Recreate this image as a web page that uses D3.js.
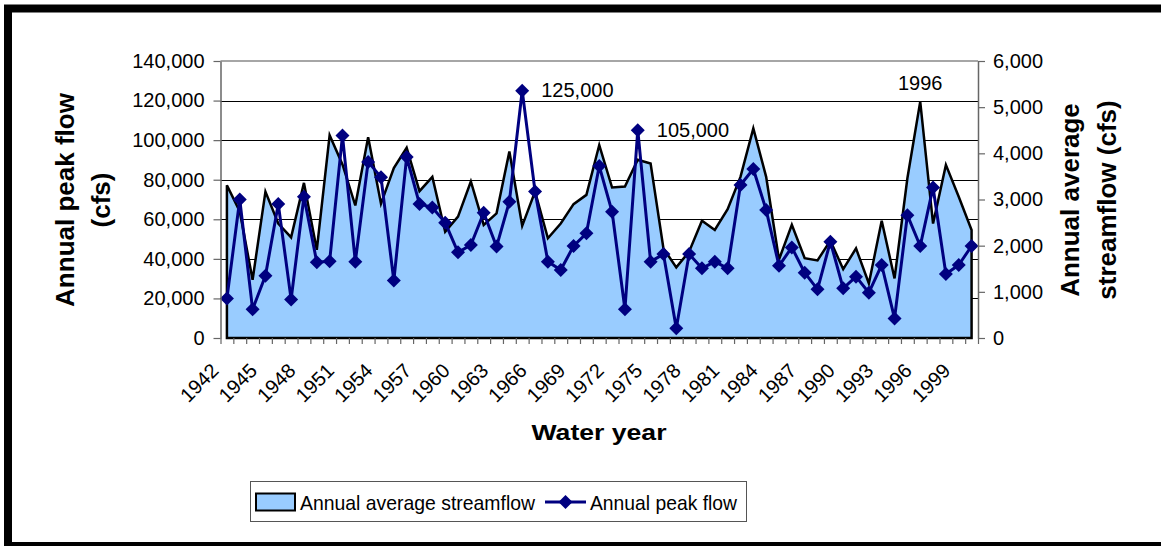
<!DOCTYPE html>
<html><head><meta charset="utf-8">
<script src="https://cdn.jsdelivr.net/npm/d3@7"></script>
<style>body{margin:0;background:#fff}svg{display:block}text{font-family:"Liberation Sans",Arial,sans-serif;fill:#000}</style>
</head><body>
<svg id="c" width="1161" height="546"></svg>
<script>
const years = d3.range(1942, 2001);
const peakFlow = [20000,70000,14500,31500,67700,19500,71400,38300,38800,102300,
  38600,89000,81300,29000,91500,67700,66000,58300,43300,47000,
  63300,46200,68900,125000,74100,38600,34400,46500,52900,86900,
  63800,14500,105000,38600,42400,4900,42400,35200,38600,35200,
  77300,85400,64700,36500,45800,33000,24600,48700,25100,31000,
  22900,36900,9900,62100,46500,76100,32300,36900,46500];
const avgFlow = [3310,2740,1260,3170,2480,2180,3360,1910,4390,3760,
  2870,4350,2910,3680,4120,3180,3490,2300,2630,3390,
  2450,2700,4040,2430,3170,2160,2480,2900,3100,4180,
  3260,3280,3860,3780,1940,1530,1870,2540,2340,2790,
  3490,4540,3490,1700,2450,1730,1680,2110,1490,1940,
  1180,2540,1290,3460,5120,2480,3750,3060,2340];
const leftTicks = [0,20000,40000,60000,80000,100000,120000,140000];
const rightTicks = [0,1000,2000,3000,4000,5000,6000];
const xLabelYears = [1942,1945,1948,1951,1954,1957,1960,1963,1966,1969,1972,1975,1978,1981,1984,1987,1990,1993,1996,1999];
const peakLabels = [{year:1965, text:"125,000"},{year:1974, text:"105,000"}];
const avgLabels = [{year:1996, text:"1996"}];

const svg = d3.select("#c");
const L = 220.5, R = 978, T = 61, B = 338;
const x = d3.scaleBand().domain(years).range([L, R]).padding(0);
const cx = d => x(d) + x.bandwidth()/2;
const xb = d3.scaleLinear().domain([0, years.length]).range([L, R]);
const yL = d3.scaleLinear().domain([0,140000]).range([B, T]);
const yR = d3.scaleLinear().domain([0,6000]).range([B, T]);

// outer frame
svg.append("rect").attr("x",8).attr("y",8.5).attr("width",1200).attr("height",537.5)
  .attr("fill","none").attr("stroke","#000").attr("stroke-width",8);

// gridlines
svg.append("g").selectAll("line").data(leftTicks.filter(v=>v>0 && v<140000)).join("line")
  .attr("x1",L).attr("x2",R).attr("y1",d=>Math.round(yL(d))+0.5).attr("y2",d=>Math.round(yL(d))+0.5)
  .attr("stroke","#000").attr("stroke-width",1);
// plot top border
svg.append("line").attr("x1",L).attr("x2",R).attr("y1",T).attr("y2",T).attr("stroke","#888").attr("stroke-width",1.5);

// area
const areaPts = years.map((y,i)=>[cx(y), yR(avgFlow[i])]);
const areaPath = "M" + cx(years[0]) + "," + B + "L" + areaPts.map(p=>p.join(",")).join("L") + "L" + cx(years[years.length-1]) + "," + B + "Z";
svg.append("path").attr("d", areaPath).attr("fill","#99CCFF").attr("stroke","#000").attr("stroke-width",2.5).attr("stroke-linejoin","miter");

// peak line
const line = d3.line().x((d,i)=>cx(years[i])).y(d=>yL(d));
svg.append("path").attr("d", line(peakFlow)).attr("fill","none").attr("stroke","#000080").attr("stroke-width",3).attr("stroke-linejoin","round");
const diamond = "M0,-7L7,0L0,7L-7,0Z";
svg.append("g").selectAll("path").data(peakFlow).join("path")
  .attr("d", diamond).attr("transform",(d,i)=>`translate(${cx(years[i])},${yL(d)})`).attr("fill","#000080");

// axes
const axL = svg.append("g").attr("transform",`translate(${L},0)`)
  .call(d3.axisLeft(yL).tickValues(leftTicks).tickSize(7).tickSizeOuter(0).tickPadding(9).tickFormat(d3.format(",")));
const axR = svg.append("g").attr("transform",`translate(${R},0)`)
  .call(d3.axisRight(yR).tickValues(rightTicks).tickSize(7).tickSizeOuter(0).tickPadding(8).tickFormat(d3.format(",")));
const axB = svg.append("g").attr("transform",`translate(0,${B})`)
  .call(d3.axisBottom(xb).tickValues(d3.range(0, years.length+1)).tickSize(6).tickSizeOuter(0).tickFormat(""));
[axL, axR, axB].forEach(a=>{
  a.selectAll("path.domain").attr("stroke","#666").attr("stroke-width",1.5);
  a.selectAll(".tick line").attr("stroke","#666").attr("stroke-width",1.2);
  a.selectAll("text").attr("font-size",20).attr("font-family","Liberation Sans, Arial, sans-serif").attr("fill","#000");
});
axB.select("path.domain").remove();

// x labels
svg.append("g").selectAll("text").data(xLabelYears).join("text")
  .attr("transform", d=>`translate(${cx(d)-7},372) rotate(-45)`)
  .attr("text-anchor","end").attr("font-size",20).text(d=>d);

// data labels
svg.append("g").selectAll("text").data(peakLabels).join("text")
  .attr("x", d=>cx(d.year)+19).attr("y", d=>yL(peakFlow[years.indexOf(d.year)])+6.5)
  .attr("font-size",20).text(d=>d.text);
svg.append("g").selectAll("text").data(avgLabels).join("text")
  .attr("x", d=>cx(d.year)).attr("y", d=>yR(avgFlow[years.indexOf(d.year)])-11.5)
  .attr("text-anchor","middle").attr("font-size",20).text(d=>d.text);

// titles
svg.append("text").attr("x",(531+667)/2).attr("y",440).attr("text-anchor","middle")
  .attr("font-size",22).attr("font-weight","bold").attr("textLength",135).attr("lengthAdjust","spacingAndGlyphs").text("Water year");
const lt = svg.append("text").attr("transform","translate(0,200) rotate(-90)").attr("text-anchor","middle")
  .attr("font-size",26).attr("font-weight","bold");
lt.append("tspan").attr("x",0).attr("y",73.5).text("Annual peak flow");
lt.append("tspan").attr("x",0).attr("y",110).text("(cfs)");
const rt = svg.append("text").attr("transform","translate(0,200) rotate(-90)").attr("text-anchor","middle")
  .attr("font-size",26).attr("font-weight","bold");
rt.append("tspan").attr("x",0).attr("y",1079).text("Annual average");
rt.append("tspan").attr("x",0).attr("y",1116).text("streamflow (cfs)");

// legend
const lg = svg.append("g");
lg.append("rect").attr("x",250.5).attr("y",481.5).attr("width",496).attr("height",40).attr("fill","#fff").attr("stroke","#555").attr("stroke-width",1);
lg.append("rect").attr("x",256).attr("y",493.5).attr("width",39).attr("height",17).attr("fill","#99CCFF").attr("stroke","#000").attr("stroke-width",2);
lg.append("text").attr("x",300).attr("y",510).attr("font-size",21).attr("textLength",235).attr("lengthAdjust","spacingAndGlyphs").text("Annual average streamflow");
lg.append("line").attr("x1",545).attr("x2",586).attr("y1",502).attr("y2",502).attr("stroke","#000080").attr("stroke-width",3);
lg.append("path").attr("d",diamond).attr("transform","translate(565.5,502)").attr("fill","#000080");
lg.append("text").attr("x",590).attr("y",510).attr("font-size",21).attr("textLength",147).attr("lengthAdjust","spacingAndGlyphs").text("Annual peak flow");
</script>
</body></html>
